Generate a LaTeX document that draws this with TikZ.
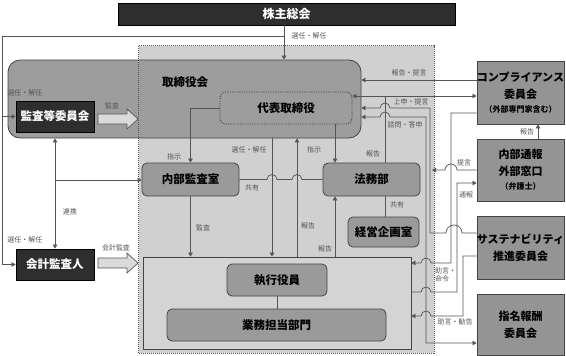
\documentclass[tikz,border=0pt]{standalone}
\usepackage{fontspec}
\setmainfont{Noto Sans CJK JP}
\usetikzlibrary{arrows.meta}
\definecolor{lncol}{HTML}{555555}
\definecolor{lblcol}{HTML}{555555}
\definecolor{bordercol}{HTML}{444444}
\definecolor{darkfill}{HTML}{2E2E2E}
\definecolor{boardfill}{HTML}{9D9D9D}
\definecolor{midfill}{HTML}{9A9A9A}
\definecolor{sidefill}{HTML}{949494}
\definecolor{regfill}{HTML}{D0D0D0}
\definecolor{execfill}{HTML}{D4D4D4}
\definecolor{hollowfill}{HTML}{DADADA}
\begin{document}
\begin{tikzpicture}[x=1pt,y=-1pt,
 lnc/.style={draw=lncol,line width=0.7pt},
 tip/.style={-{Triangle[length=4pt,width=4.5pt]}},
 tips/.style={{Triangle[length=4pt,width=4.5pt]}-{Triangle[length=4pt,width=4.5pt]}},
 lbl/.style={font=\fontsize{7}{8.5}\selectfont, text=lblcol, inner sep=0pt},
 darkbox/.style={draw=black, fill=darkfill, text=white, font=\bfseries\fontsize{11.5}{13}\selectfont, inner sep=0pt, line width=0.8pt},
 rbox/.style={draw=bordercol, fill=midfill, rounded corners=5pt, font=\bfseries\fontsize{11.5}{13}\selectfont, inner sep=0pt, line width=0.8pt},
 sidebox/.style={draw=bordercol, fill=sidefill, font=\bfseries\fontsize{11}{17}\selectfont, align=center, inner sep=0pt, line width=0.8pt, minimum width=87pt},
 regionbox/.style={fill=regfill, inner sep=0pt},
 hollow/.style={draw=lncol, fill=hollowfill, line width=0.7pt},
]
\useasboundingbox (0,0) rectangle (566,356);

% ---- region ----
\node[regionbox, minimum width=295pt, minimum height=307pt] (region) at (286.5,199.5) {};

% ---- boxes ----
\node[darkbox, minimum width=337pt, minimum height=22pt, font=\bfseries\fontsize{12}{13}\selectfont] (kabu) at (286.5,14) {株主総会};
\node[draw=bordercol, fill=boardfill, rounded corners=12pt, minimum width=353pt, minimum height=78pt, line width=0.8pt, inner sep=0pt] (board) at (184.5,99) {};
\node[font=\bfseries\fontsize{11.5}{13}\selectfont, inner sep=0pt] (boardlbl) at (185,82) {取締役会};
\node[draw=bordercol, fill=boardfill, rounded corners=6pt, dash pattern=on 1.2pt off 1.2pt, line width=0.8pt, minimum width=132pt, minimum height=32pt, inner sep=0pt, font=\bfseries\fontsize{11.5}{13}\selectfont] (daihyo) at (286,108) {代表取締役};
\node[darkbox, minimum width=78pt, minimum height=31pt] (kansa) at (55,116.5) {監査等委員会};
\node[darkbox, minimum width=78pt, minimum height=31pt] (kaikei) at (55,264.5) {会計監査人};
\node[rbox, minimum width=97pt, minimum height=33pt] (naikan) at (190.5,179.5) {内部監査室};
\node[rbox, minimum width=97pt, minimum height=33pt] (houmu) at (371.5,179.5) {法務部};
\node[rbox, minimum width=71pt, minimum height=30pt] (keiei) at (383.5,232) {経営企画室};
\node[draw=bordercol, fill=execfill, line width=0.8pt, minimum width=268pt, minimum height=92pt, inner sep=0pt] (exec) at (277,303) {};
\node[rbox, minimum width=100pt, minimum height=32pt] (shikko) at (277,280) {執行役員};
\node[rbox, minimum width=219pt, minimum height=32pt] (gyomu) at (276.5,325) {業務担当部門};

\node[sidebox, minimum height=63pt] (compl) at (520.5,92.5) {コンプライアンス\\委員会\\[-3pt]{\fontsize{8}{12}\selectfont （外部専門家含む）}};
\node[sidebox, minimum height=62pt] (naibu) at (520.5,170) {内部通報\\外部窓口\\[-3pt]{\fontsize{8}{12}\selectfont （弁護士）}};
\node[sidebox, minimum height=63pt] (sust) at (520.5,247.5) {サステナビリティ\\推進委員会};
\node[sidebox, minimum height=61pt] (shimei) at (520.5,324.5) {指名報酬\\委員会};

% ---- hollow arrows ----
\draw[hollow] (98,114) -- (127,114) -- (127,109) -- (138,119) -- (127,129) -- (127,124) -- (98,124) -- cycle;
\draw[hollow] (98,258) -- (127,258) -- (127,253) -- (138,263) -- (127,273) -- (127,268) -- (98,268) -- cycle;

% ---- helper coordinates ----
\coordinate (sel) at (284,36);
\coordinate (lft) at (2,36);
\coordinate (rk) at (55,180);
\coordinate (shx) at (335,0);
\coordinate (c272) at (272,0);
\coordinate (c297) at (297,0);
\coordinate (c385) at (385,0);
\coordinate (c538) at (538,0);
\coordinate (y80) at (0,80);
\coordinate (y96) at (0,96);
\coordinate (y108) at (0,108);
\coordinate (y113) at (0,113);
\coordinate (y117) at (0,117);
\coordinate (y170) at (0,170);
\coordinate (y183) at (0,183);
\coordinate (y233) at (0,233);
\coordinate (y256) at (0,256);
\coordinate (y263) at (0,263);
\coordinate (y292) at (0,292);
\coordinate (y316) at (0,316);
\coordinate (y343) at (0,343);

% ---- connectors ----
\draw[lnc,tip] (kabu.south -| sel) -- (sel |- board.north);
\draw[lnc] (sel) -- (lft) -- (lft |- kaikei.west);
\draw[lnc,tip] (lft |- kansa.west) -- (kansa.west);
\draw[lnc,tip] (lft |- kaikei.west) -- (kaikei.west);

\draw[lnc,tips] (kansa.south |- board.south) -- (kaikei.north);
\draw[lnc,tip] (rk) -- (rk -| naikan.west);

\draw[lnc,tip] (daihyo.west) -| (naikan.north);
\draw[lnc,tip] (shx |- daihyo.south) -- (shx |- houmu.north);
\draw[lnc,tip] (naikan.south) -- (naikan.south |- exec.north);
\draw[lnc,tip] (c272 |- board.south) -- (c272 |- exec.north);
\draw[lnc,tip] (c297 |- exec.north) -- (c297 |- board.south);
\draw[lnc,tip] (shx |- exec.north) -- (shx |- houmu.south);

\draw[lnc] (naikan.east) -- (267,179.5) arc[start angle=180,end angle=0,radius=5pt] -- (292,179.5) arc[start angle=180,end angle=0,radius=5pt] -- (houmu.west);

\draw[lnc] (c385 |- houmu.south) -- (c385 |- keiei.north);
\draw[lnc] (c385 |- houmu.north) -- (c385 |- y96);

\draw[lnc,tips] (daihyo.east |- y96) -- (compl.west |- y96);
\draw[lnc,tip] (compl.west |- y80) -- (board.east |- y80);

\draw[lnc,tip] (sust.west |- y233) -- (462,233) arc[start angle=0,end angle=180,radius=8pt] -- (430,233) -- (430,108) -- (390,108) arc[start angle=0,end angle=180,radius=5pt] -- (board.east |- y108);

\draw[lnc,tips] (board.east |- y117) -- (380,117) arc[start angle=180,end angle=0,radius=5pt] -- (426,117) -- (426,343) -- (shimei.west |- y343);

\draw[lnc,tip] (naibu.west |- y170) -- (457,170) arc[start angle=0,end angle=180,radius=6pt] -- (432,170);

\draw[lnc,tip] (exec.east |- y292) -- (421,292) arc[start angle=180,end angle=0,radius=5pt] -- (457,292) -- (457,183) -- (naibu.west |- y183);

\draw[lnc,tip] (compl.west |- y113) -- (451,113) -- (451,263) -- (431,263) arc[start angle=0,end angle=180,radius=5pt] -- (exec.east |- y263);

\draw[lnc,tip] (sust.west |- y256) -- (463,256) -- (463,316) -- (431,316) arc[start angle=0,end angle=180,radius=5pt] -- (exec.east |- y316);

\draw[lnc,tip] (c538 |- naibu.north) -- (c538 |- compl.south);

\draw[lnc] (shikko.south) -- (shikko.south |- gyomu.north);

% ---- region border ----
\draw[lncol, line width=0.7pt, dash pattern=on 1pt off 1pt] (region.north west) rectangle (region.south east);

% ---- labels ----
\node[lbl] (l1) at (309,36) {選任・解任};
\node[lbl] (l2) at (25,93) {選任・解任};
\node[lbl] (l3) at (112,106) {監査};
\node[lbl] (l4) at (70,212) {連携};
\node[lbl] (l5) at (25,240) {選任・解任};
\node[lbl] (l6) at (116,248) {会計監査};
\node[lbl] (l7) at (174,157) {指示};
\node[lbl] (l8) at (249,150) {選任・解任};
\node[lbl] (l9) at (252,188) {共有};
\node[lbl] (l10) at (203,228) {監査};
\node[lbl] (l11) at (314,150) {指示};
\node[lbl] (l12) at (308,226) {報告};
\node[lbl] (l13) at (325,249) {報告};
\node[lbl] (l14) at (373,154) {報告};
\node[lbl] (l15) at (397,205) {共有};
\node[lbl] (l16) at (409,73) {報告・提言};
\node[lbl] (l17) at (411,102) {上申・提言};
\node[lbl] (l18) at (405,125) {諮問・答申};
\node[lbl] (l19) at (527,132) {報告};
\node[lbl] (l20) at (464,163) {提言};
\node[lbl] (l21) at (466,195) {通報};
\node[lbl, anchor=west, align=left] (l22) at (435,275) {助言・\\命令};
\node[lbl] (l23) at (455,322) {助言・勧告};
\end{tikzpicture}
\end{document}
